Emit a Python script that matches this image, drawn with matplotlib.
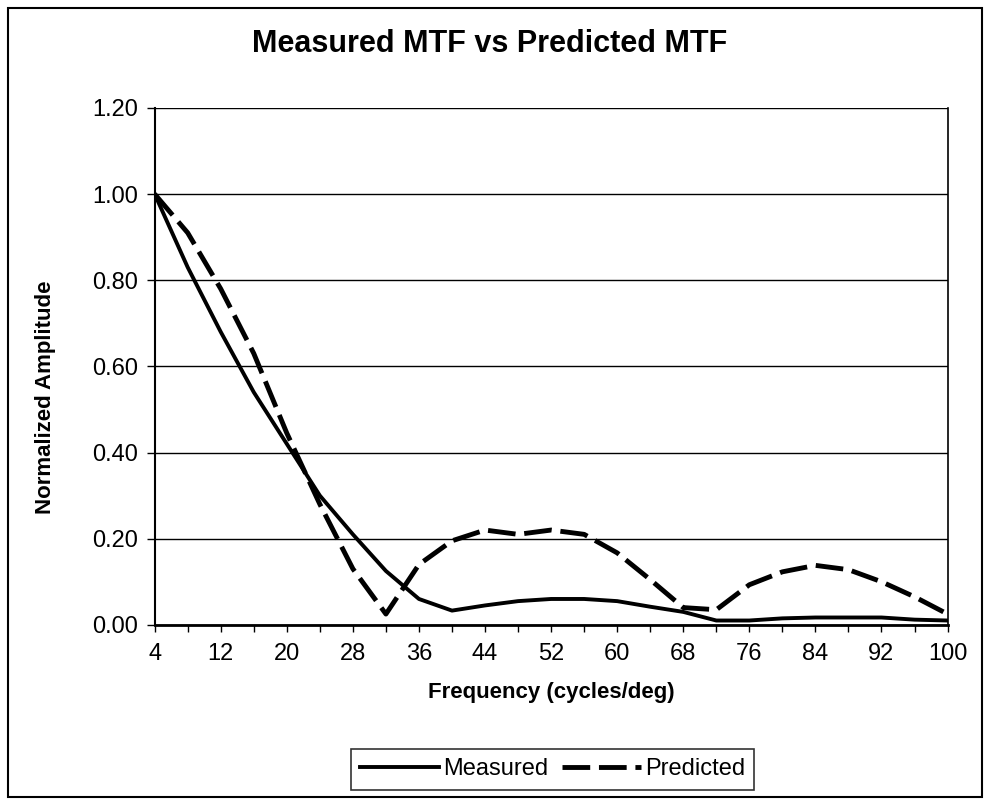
import matplotlib.pyplot as plt
from matplotlib.patches import Rectangle

freq = [4, 8, 12, 16, 20, 24, 28, 32, 36, 40, 44, 48, 52,
        56, 60, 64, 68, 72, 76, 80, 84, 88, 92, 96, 100]
measured = [1.00, 0.83, 0.68, 0.54, 0.42, 0.30, 0.21, 0.125, 0.06, 0.033, 0.045, 0.055, 0.06,
            0.06, 0.055, 0.042, 0.03, 0.01, 0.01, 0.015, 0.017, 0.017, 0.017, 0.012, 0.01]
predicted = [1.00, 0.91, 0.78, 0.63, 0.445, 0.28, 0.13, 0.025, 0.14, 0.195, 0.22, 0.21, 0.22,
             0.21, 0.167, 0.105, 0.04, 0.035, 0.093, 0.123, 0.138, 0.128, 0.10, 0.065, 0.025]
tick_labels = [4, 12, 20, 28, 36, 44, 52, 60, 68, 76, 84, 92, 100]

plt.rcParams['font.family'] = ['Liberation Sans', 'DejaVu Sans']

fig = plt.figure(figsize=(9.85, 7.99), dpi=100)
ax = fig.add_axes([0.157, 0.218, 0.805, 0.647])

ax.plot(freq, measured, color='black', lw=2.8, solid_joinstyle='round', label='Measured')
ax.plot(freq, predicted, color='black', lw=3.5, dashes=(5.7, 1.8), label='Predicted')

ax.set_xlim(4, 100)
ax.set_ylim(0, 1.2)
ax.set_yticks([0, 0.2, 0.4, 0.6, 0.8, 1.0, 1.2])
ax.set_yticklabels(['%.2f' % v for v in ax.get_yticks()], fontsize=17)
ax.set_xticks(freq, minor=True)
ax.set_xticks(tick_labels)
ax.set_xticklabels([str(t) for t in tick_labels], fontsize=17)
ax.tick_params(axis='x', which='both', direction='out', length=5, width=1, pad=8)
ax.tick_params(axis='y', direction='out', length=6, width=1, pad=6)
ax.grid(axis='y', color='black', lw=1)
for s in ['top', 'right']:
    ax.spines[s].set_visible(False)
ax.spines['left'].set_linewidth(1.5)
ax.spines['bottom'].set_linewidth(2)
ax.plot([100, 100], [0, 1.2], color='black', lw=1.2, clip_on=False)
ax.set_axisbelow(True)

ax.set_xlabel('Frequency (cycles/deg)', fontsize=16, fontweight='bold', labelpad=12)
ax.set_ylabel('Normalized Amplitude', fontsize=16, fontweight='bold')
ax.yaxis.set_label_coords(-0.124, 0.44)
fig.text(0.497, 0.945, 'Measured MTF vs Predicted MTF', ha='center', va='center',
         fontsize=22, fontweight='bold')

leg = fig.legend(loc='center', bbox_to_anchor=(0.561, 0.037), ncol=2, fontsize=17,
                 frameon=True, fancybox=False, edgecolor='black', handlelength=3.35,
                 handletextpad=0.15, columnspacing=0.6, borderpad=0.4)
leg.get_frame().set_linewidth(1.2)

fig.patches.append(Rectangle((0.008, 0.003), 0.989, 0.987, transform=fig.transFigure,
                             fill=False, edgecolor='black', lw=1.5))

fig.savefig('out.png', dpi=100)
